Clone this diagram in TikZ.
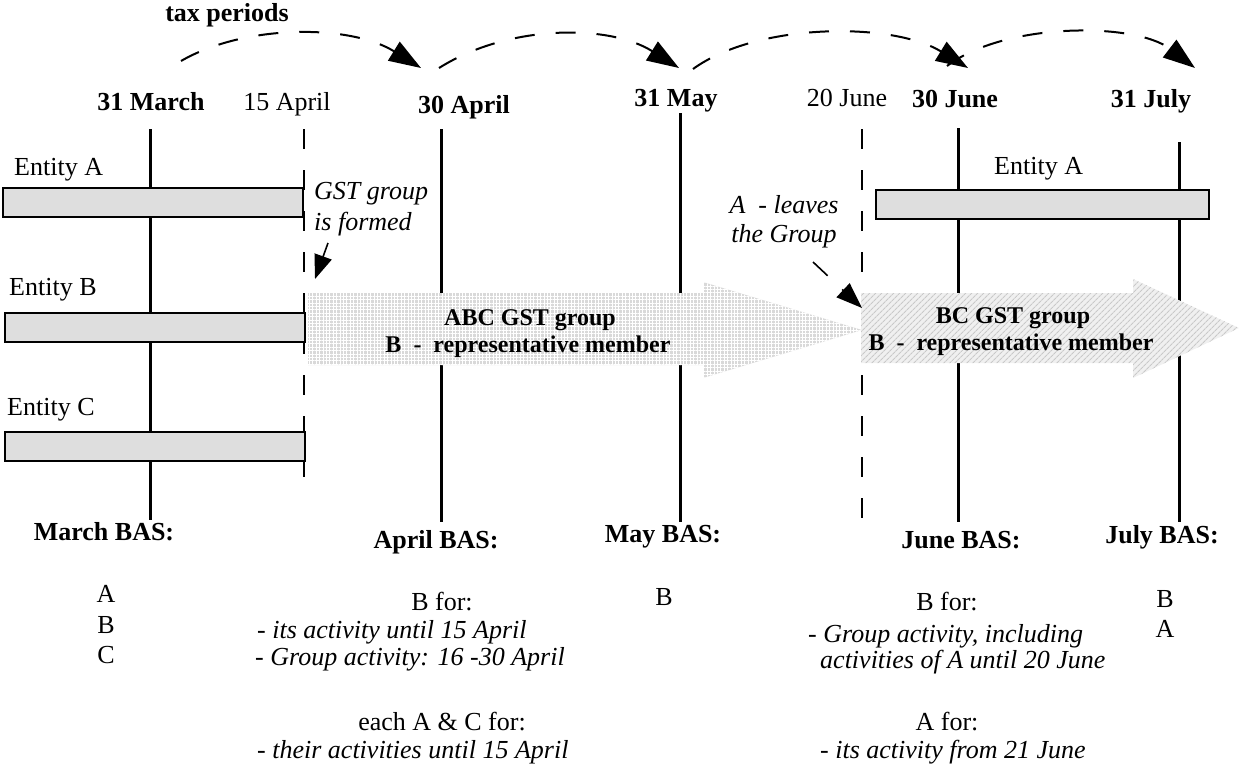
\documentclass[tikz,border=0pt]{standalone}
\usepackage{fontspec}
\setmainfont{Liberation Serif}
\usetikzlibrary{arrows.meta,patterns.meta}
\begin{document}
\begin{tikzpicture}[x=1pt,y=-1pt,
  txt/.style={inner sep=0pt,anchor=base,font=\fontsize{26}{30}\selectfont},
  bold/.style={txt,font=\fontsize{26}{30}\selectfont\bfseries},
  ital/.style={txt,font=\fontsize{26}{30}\selectfont\itshape},
  grp/.style={txt,font=\fontsize{24}{28}\selectfont\bfseries},
  tick/.style={line width=3pt},
  cut/.style={line width=2pt,dash pattern=on 20pt off 21pt},
  bar/.style={draw,line width=1.6pt,fill=gray!26},
  period/.style={line width=2pt,dash pattern=on 20pt off 21pt,-{Triangle[length=32pt,width=22pt]}},
  note/.style={line width=1.6pt,dash pattern=on 20pt off 20pt,-{Triangle[length=26pt,width=19pt]}},
  abcfill/.style={fill=gray!30,
    postaction={pattern={Lines[angle=0,distance=3.4pt,line width=1pt]},pattern color=white},
    postaction={pattern={Lines[angle=90,distance=3.4pt,line width=1pt]},pattern color=white}},
  bcfill/.style={fill=gray!12,
    postaction={pattern={Lines[angle=45,distance=4pt,line width=1.2pt]},pattern color=gray!42}}]
\useasboundingbox (0,0) rectangle (1239,769);

% month-end and event ticks
\coordinate (marT) at (150,129);  \coordinate (marB) at (150,520);
\coordinate (a15T) at (304,129);  \coordinate (a15B) at (304,477);
\coordinate (a30T) at (441,129);  \coordinate (a30B) at (441,522);
\coordinate (mayT) at (680,113);  \coordinate (mayB) at (680,522);
\coordinate (j20T) at (862,129);  \coordinate (j20B) at (862,520);
\coordinate (j30T) at (958,128);  \coordinate (j30B) at (958,522);
\coordinate (julT) at (1179,142); \coordinate (julB) at (1179,522);
\draw[tick] (marT) -- (marB);
\draw[tick] (a30T) -- (a30B);
\draw[tick] (mayT) -- (mayB);
\draw[tick] (j30T) -- (j30B);
\draw[tick] (julT) -- (julB);
\draw[cut] (a15T) -- (a15B);
\draw[cut] (j20T) -- (j20B);

% entity bars
\draw[bar] (3,188) rectangle (303,217);
\draw[bar] (5,313) rectangle (305,342);
\draw[bar] (5,432) rectangle (305,461);
\draw[bar] (876,190) rectangle (1209,219);

% group arrows
\path[abcfill] (308,293) -- (703,293) -- (703,282) -- (862,330) -- (703,378) -- (703,365) -- (308,365) -- cycle;
\path[bcfill] (861,293) -- (1133,293) -- (1133,279) -- (1239,328) -- (1133,378) -- (1133,363) -- (861,363) -- cycle;

% tax period arcs
\coordinate (p0) at (181,61);
\coordinate (p1) at (421,68);
\coordinate (p1b) at (439,68);
\coordinate (p2) at (679,68);
\coordinate (p2b) at (693,69);
\coordinate (p3) at (968,68);
\coordinate (p3b) at (947,66);
\coordinate (p4) at (1195,68);
\draw[period] (p0) .. controls (245,24) and (350,24) .. (p1);
\draw[period] (p1b) .. controls (509,24) and (609,24) .. (p2);
\draw[period] (p2b) .. controls (758,22) and (893,22) .. (p3);
\draw[period] (p3b) .. controls (1005,22) and (1135,22) .. (p4);

% labels
\node[bold] (tax) at (227,21) {tax periods};
\node[bold] (dMar) at (151,110) {31 March};
\node[txt]  (d15) at (287,110) {15 April};
\node[bold] (dApr) at (464,113) {30 April};
\node[bold] (dMay) at (676,106) {31 May};
\node[txt]  (d20) at (847,106) {20 June};
\node[bold] (dJun) at (955,107) {30 June};
\node[bold] (dJul) at (1151,107) {31 July};

\node[txt,anchor=base west] (entA) at (14,175) {Entity A};
\node[txt,anchor=base west] (entB) at (9,295) {Entity B};
\node[txt,anchor=base west] (entC) at (7,415) {Entity C};
\node[txt,anchor=base west] (entA2) at (994,174) {Entity A};

\node[ital,anchor=base west] (gst1) at (314,199) {GST group};
\node[ital,anchor=base west] (gst2) at (314,230) {is formed};
\coordinate (gstS) at (328,243);
\coordinate (gstE) at (315,279);
\draw[note,-{Triangle[length=24pt,width=18pt]}] (gstS) -- (gstE);

\node[ital] (lv1) at (784,213) {A\ \ - leaves};
\node[ital] (lv2) at (784,242) {the Group};
\coordinate (lvS) at (813,262);
\coordinate (lvE) at (862,308);
\draw[note] (lvS) -- (lvE);

\node[grp] (abc1) at (530,325) {ABC GST group};
\node[grp] (abc2) at (528,352) {B\ \ -\ \ representative member};
\node[grp] (bc1) at (1013,323) {BC GST group};
\node[grp] (bc2) at (1011,350) {B\ \ -\ \ representative member};

% BAS headings
\node[bold] (basMar) at (104,540) {March BAS:};
\node[bold] (basApr) at (436,548) {April BAS:};
\node[bold] (basMay) at (663,542) {May BAS:};
\node[bold] (basJun) at (961,548) {June BAS:};
\node[bold] (basJul) at (1162,543) {July BAS:};

% March lodgers
\node[txt] (mA) at (106,602) {A};
\node[txt] (mB) at (106,633) {B};
\node[txt] (mC) at (106,663) {C};

% April lodgers
\node[txt] (aB) at (442,610) {B for:};
\node[ital,anchor=base west] (aB1) at (257,638) {- its activity until 15 April};
\node[ital,anchor=base west] (aB2) at (255,665) {- Group activity: 16 -30 April};
\node[txt] (aAC) at (442,730) {each A \& C for:};
\node[ital,anchor=base west] (aAC1) at (257,758) {- their activities until 15 April};

% May lodger
\node[txt] (yB) at (664,605) {B};

% June lodgers
\node[txt] (jB) at (947,610) {B for:};
\node[ital,anchor=base west] (jB1) at (808,642) {- Group activity, including};
\node[ital,anchor=base west] (jB2) at (820,668) {activities of A until 20 June};
\node[txt] (jA) at (947,730) {A for:};
\node[ital,anchor=base west] (jA1) at (820,758) {- its activity from 21 June};

% July lodgers
\node[txt] (lB) at (1165,607) {B};
\node[txt] (lA) at (1165,637) {A};
\end{tikzpicture}
\end{document}
